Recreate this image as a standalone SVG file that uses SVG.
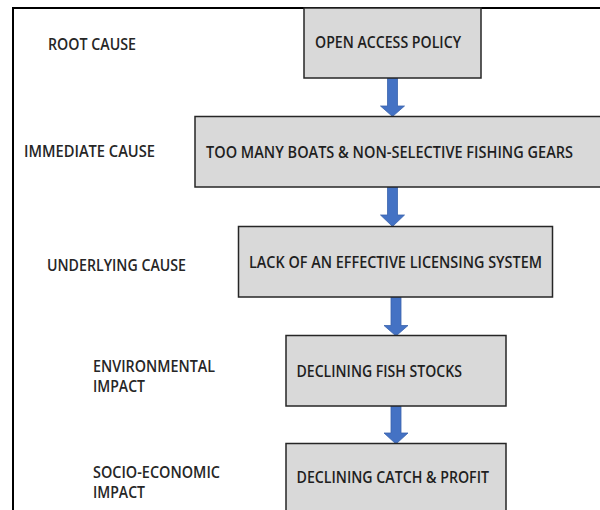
<svg xmlns="http://www.w3.org/2000/svg" width="600" height="510" viewBox="0 0 600 510">
<style>
.box{fill:#d9d9d9;stroke:#262626;stroke-width:1.5}
.t{font-family:"Open Sans","Liberation Sans",sans-serif;font-weight:600;font-size:15.5px;fill:#1f1f1f}
.lab{font-family:"Open Sans","Liberation Sans",sans-serif;font-weight:600;font-size:15.5px;fill:#262626}
.arr{fill:#4472c4;stroke:#3a63ad;stroke-width:0.8}
</style>
<rect width="600" height="510" fill="#ffffff"/>
<g id="frame">
<path d="M13,510 V8 H600" fill="none" stroke="#000" stroke-width="2"/>
</g>
<g id="labels">
<text class="lab" x="48" y="50" textLength="88" lengthAdjust="spacingAndGlyphs">ROOT CAUSE</text>
<text class="lab" x="24" y="157" textLength="131" lengthAdjust="spacingAndGlyphs">IMMEDIATE CAUSE</text>
<text class="lab" x="47" y="271" textLength="139" lengthAdjust="spacingAndGlyphs">UNDERLYING CAUSE</text>
<text class="lab" x="93" y="372" textLength="122" lengthAdjust="spacingAndGlyphs">ENVIRONMENTAL</text>
<text class="lab" x="93" y="392" textLength="52" lengthAdjust="spacingAndGlyphs">IMPACT</text>
<text class="lab" x="93" y="478" textLength="127" lengthAdjust="spacingAndGlyphs">SOCIO-ECONOMIC</text>
<text class="lab" x="93" y="498" textLength="52" lengthAdjust="spacingAndGlyphs">IMPACT</text>
</g>
<g id="connectors">
<polygon class="arr" points="387.5,78 397.5,78 397.5,106 404.5,106 392.5,116.5 380.5,106 387.5,106"/>
<polygon class="arr" points="387.5,187 397.5,187 397.5,215 404.5,215 392.5,226.5 380.5,215 387.5,215"/>
<polygon class="arr" points="391,297 401,297 401,325.5 408,325.5 396,336 384,325.5 391,325.5"/>
<polygon class="arr" points="391,406 401,406 401,433 408,433 396,444 384,433 391,433"/>
</g>
<g id="n1">
<rect class="box" x="304" y="8" width="177" height="70"/>
<text class="t" x="315" y="48" textLength="146" lengthAdjust="spacingAndGlyphs">OPEN ACCESS POLICY</text>
</g>
<g id="n2">
<rect class="box" x="195" y="116.5" width="410" height="70.5"/>
<text class="t" x="206" y="158" textLength="367" lengthAdjust="spacingAndGlyphs">TOO MANY BOATS &amp; NON-SELECTIVE FISHING GEARS</text>
</g>
<g id="n3">
<rect class="box" x="238.5" y="226.5" width="314" height="70.5"/>
<text class="t" x="249" y="267.5" textLength="293" lengthAdjust="spacingAndGlyphs">LACK OF AN EFFECTIVE LICENSING SYSTEM</text>
</g>
<g id="n4">
<rect class="box" x="286" y="335.5" width="220" height="70.5"/>
<text class="t" x="296.5" y="376.5" textLength="165.5" lengthAdjust="spacingAndGlyphs">DECLINING FISH STOCKS</text>
</g>
<g id="n5">
<rect class="box" x="286" y="443.5" width="220" height="75"/>
<text class="t" x="296.5" y="482.5" textLength="192.5" lengthAdjust="spacingAndGlyphs">DECLINING CATCH &amp; PROFIT</text>
</g>
</svg>
